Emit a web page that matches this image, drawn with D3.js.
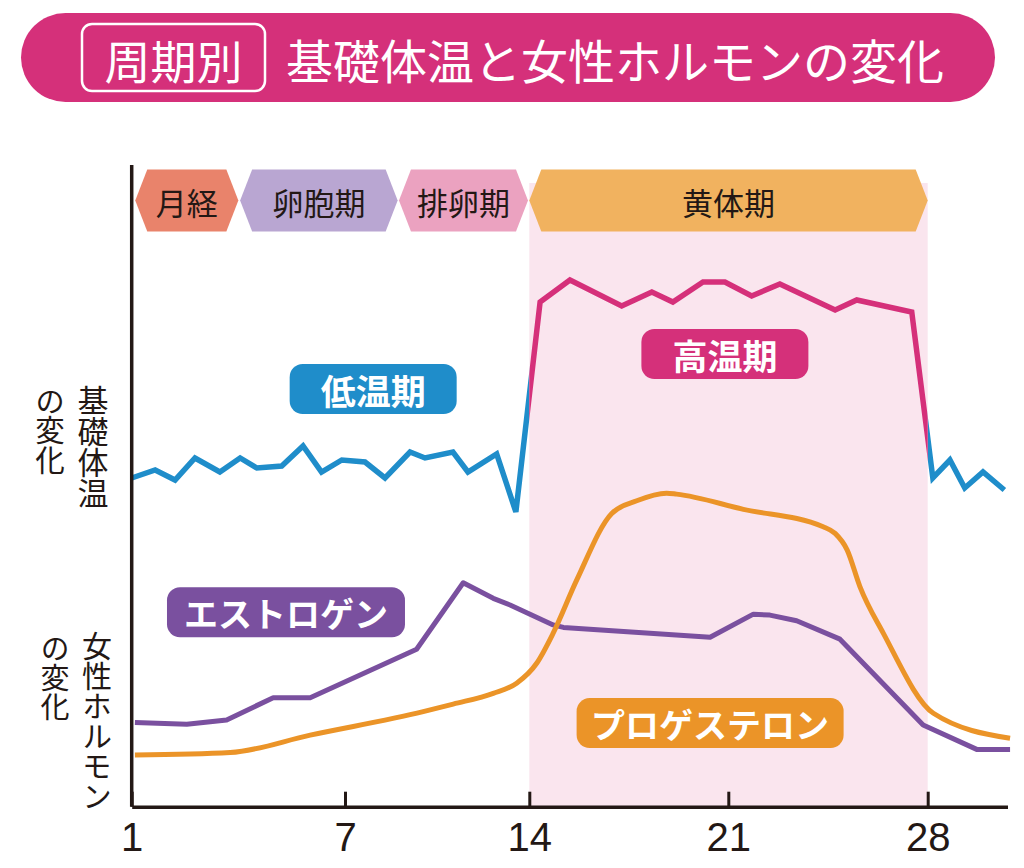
<!DOCTYPE html>
<html><head><meta charset="utf-8">
<script src="https://cdn.jsdelivr.net/npm/d3@7"></script>
<style>
html,body{margin:0;padding:0;background:#fff;}
svg{display:block;}
text{font-family:"Noto Sans CJK JP","Noto Sans",sans-serif;}
</style></head><body>
<svg id="chart" width="1024" height="868"></svg>
<script>
// ---------------- data ----------------
const titleTag = "周期別";
const titleText = "基礎体温と女性ホルモンの変化";

const dayTicks = [1, 7, 14, 21, 28];

const phaseNames = ["月経", "卵胞期", "排卵期", "黄体期"];
const phaseStart = [1.1, 4.05, 9.05, 14.0];
const phaseEnd   = [4.0, 9.0, 13.95, 28.0];
const lutealRange = [14, 28];

// basal body temperature (°C, schematic)
const tempDays = [1.00, 1.66, 2.22, 2.78, 3.48, 4.05, 4.52, 5.22, 5.82, 6.34, 6.91,
  7.76, 8.52, 9.47, 10.04, 11.10, 11.67, 12.76, 13.49,
  14.38, 15.43, 17.25, 18.31, 19.05, 20.11, 20.88, 21.82, 22.81, 24.75, 25.51, 27.44,
  28.18, 28.78, 29.30, 29.94, 30.69];
const tempValues = [36.17, 36.21, 36.16, 36.27, 36.20, 36.27, 36.22, 36.23, 36.33, 36.20, 36.26,
  36.25, 36.17, 36.30, 36.27, 36.30, 36.20, 36.29, 36.00,
  37.05, 37.16, 37.03, 37.10, 37.05, 37.15, 37.15, 37.08, 37.14, 37.01, 37.06, 37.00,
  36.17, 36.26, 36.12, 36.20, 36.11];

// hormone levels (relative units)
const estrogenDays   = [1.09, 2.55, 3.67, 4.98, 6.02, 9.72, 11.49, 12.63, 13.27, 14.84, 15.20,
  20.36, 21.88, 22.46, 23.40, 24.92, 27.84, 29.72, 30.89];
const estrogenValues = [26.6, 26.0, 27.4, 34.4, 34.4, 49.7, 70.7, 65.8, 63.7, 57.4, 56.6,
  53.5, 60.8, 60.5, 58.7, 52.9, 25.8, 18.1, 18.1];

const progesteroneDays   = [1.09, 3.77, 6.02, 9.97, 11.11, 12.63, 13.52, 14.26, 14.84, 15.67, 16.90,
  17.78, 18.83, 19.18, 21.53, 24.33, 24.75, 25.17, 25.62, 26.44, 28.20, 30.89];
const progesteroneValues = [16.3, 17.1, 22.6, 30.0, 32.4, 35.8, 39.0, 45.3, 54.8, 71.6, 92.6,
  96.6, 99.0, 98.7, 93.9, 88.4, 86.3, 81.1, 69.5, 54.8, 29.5, 21.6];

const sideLabels = ["基礎体温", "の変化", "女性ホルモン", "の変化"];

const bubbleLabels = ["低温期", "高温期", "エストロゲン", "プロゲステロン"];
const bubbleDays   = [8.07, 20.88, 5.34, 20.36];
const bubbleValues = [36.615, 36.79, 61.4, 26.4];
const bubbleSeries = ["temp", "temp", "hormone", "hormone"];

// ---------------- styles ----------------
const C = {
  ink: "#231815", pinkBar: "#d5307a", blue: "#1f8dca", pink: "#d5307a",
  purple: "#7a509f", orange: "#eb9428", shade: "#fae5ee",
  phase: ["#e9836b", "#b9a6d2", "#eba2c0", "#f1b25f"],
  bubble: ["#1f8dca", "#d5307a", "#7a509f", "#eb9428"]
};
const bubbleW = [167, 167, 238, 267];
const bubbleFont = [35, 35, 34, 34];

const W = 1024, H = 868;
const svg = d3.select("#chart");
svg.append("rect").attr("width", W).attr("height", H).attr("fill", "#fff");

// ---------------- scales ----------------
const x = d3.scaleLinear()
  .domain([1, 7, 14, 21, 28, 30.8])
  .range([131.7, 345, 529.3, 728.3, 927.7, 1007.5]);
const axisY = 806.7;
const yTemp = d3.scaleLinear().domain([36.0, 37.0]).range([512, 312]);
const yHorm = d3.scaleLinear().domain([0, 100]).range([axisY, 490]);

// ---------------- title ----------------
const title = svg.append("g");
title.append("rect").attr("x", 21).attr("y", 13).attr("width", 974).attr("height", 89)
  .attr("rx", 44.5).attr("fill", C.pinkBar);
title.append("rect").attr("x", 82).attr("y", 24).attr("width", 183).attr("height", 67)
  .attr("rx", 10).attr("fill", "none").attr("stroke", "#fff").attr("stroke-width", 2.5);
title.append("text").attr("x", 173.5).attr("y", 59).attr("text-anchor", "middle")
  .attr("dominant-baseline", "central").attr("fill", "#fff").attr("font-size", 46)
  .text(titleTag);
title.append("text").attr("x", 286).attr("y", 58.5).attr("dominant-baseline", "central")
  .attr("fill", "#fff").attr("font-size", 47).text(titleText);

// ---------------- luteal shading ----------------
svg.append("rect").attr("x", x(lutealRange[0])).attr("y", 183)
  .attr("width", x(lutealRange[1]) - x(lutealRange[0])).attr("height", axisY - 183)
  .attr("fill", C.shade);

// ---------------- phase bar ----------------
const hexTop = 169.5, hexBot = 231.5, hexMid = (hexTop + hexBot) / 2, tip = 12;
const phases = phaseNames.map((n, i) => ({ name: n, s: phaseStart[i], e: phaseEnd[i], i }));
const pg = svg.append("g").selectAll("g").data(phases).join("g");
pg.append("path")
  .attr("d", d => {
    const a = x(d.s), b = x(d.e);
    return `M${a},${hexMid}L${a + tip},${hexTop}L${b - tip},${hexTop}L${b},${hexMid}L${b - tip},${hexBot}L${a + tip},${hexBot}Z`;
  })
  .attr("fill", d => C.phase[d.i]);
pg.append("text")
  .attr("x", d => (x(d.s) + x(d.e)) / 2).attr("y", hexMid + 1)
  .attr("text-anchor", "middle").attr("dominant-baseline", "central")
  .attr("font-size", 31).attr("fill", C.ink).text(d => d.name);

// ---------------- hormone lines ----------------
const eLine = d3.line().x(d => x(d[0])).y(d => yHorm(d[1]));
const pLine = d3.line().x(d => x(d[0])).y(d => yHorm(d[1])).curve(d3.curveMonotoneX);
const estrogen = d3.zip(estrogenDays, estrogenValues);
const progesterone = d3.zip(progesteroneDays, progesteroneValues);
svg.append("path").datum(estrogen).attr("d", eLine).attr("fill", "none")
  .attr("stroke", C.purple).attr("stroke-width", 5).attr("stroke-linejoin", "round");
svg.append("path").datum(progesterone).attr("d", pLine).attr("fill", "none")
  .attr("stroke", C.orange).attr("stroke-width", 5).attr("stroke-linejoin", "round");

// ---------------- temperature line ----------------
const defs = svg.append("defs");
defs.append("clipPath").attr("id", "inside").append("rect")
  .attr("x", x(lutealRange[0])).attr("y", 0)
  .attr("width", x(lutealRange[1]) - x(lutealRange[0])).attr("height", H);
const out = defs.append("clipPath").attr("id", "outside");
out.append("rect").attr("x", 0).attr("y", 0).attr("width", x(lutealRange[0])).attr("height", H);
out.append("rect").attr("x", x(lutealRange[1])).attr("y", 0)
  .attr("width", W - x(lutealRange[1])).attr("height", H);

const temps = d3.zip(tempDays, tempValues);
const tLine = d3.line().x(d => x(d[0])).y(d => yTemp(d[1]));
svg.append("path").datum(temps).attr("d", tLine).attr("fill", "none")
  .attr("stroke", C.blue).attr("stroke-width", 5.5).attr("stroke-linejoin", "miter")
  .attr("clip-path", "url(#outside)");
svg.append("path").datum(temps).attr("d", tLine).attr("fill", "none")
  .attr("stroke", C.pink).attr("stroke-width", 5.5).attr("stroke-linejoin", "miter")
  .attr("clip-path", "url(#inside)");

// ---------------- bubbles ----------------
const bubbles = bubbleLabels.map((t, i) => ({
  t, i, cx: x(bubbleDays[i]),
  cy: bubbleSeries[i] === "temp" ? yTemp(bubbleValues[i]) : yHorm(bubbleValues[i])
}));
const bg = svg.append("g").selectAll("g").data(bubbles).join("g");
bg.append("rect")
  .attr("x", d => d.cx - bubbleW[d.i] / 2).attr("y", d => d.cy - 25)
  .attr("width", d => bubbleW[d.i]).attr("height", 50).attr("rx", 13)
  .attr("fill", d => C.bubble[d.i]);
bg.append("text").attr("x", d => d.cx).attr("y", d => d.cy)
  .attr("text-anchor", "middle").attr("dominant-baseline", "central")
  .attr("font-size", d => bubbleFont[d.i]).attr("font-weight", 700)
  .attr("fill", "#fff").text(d => d.t);

// ---------------- axes ----------------
svg.append("line").attr("x1", x(1)).attr("x2", x(1)).attr("y1", 165).attr("y2", axisY)
  .attr("stroke", C.ink).attr("stroke-width", 3.5);
const xAxis = d3.axisBottom(x).tickValues(dayTicks).tickFormat(d3.format("d"))
  .tickSizeInner(-15).tickSizeOuter(0).tickPadding(16);
const ag = svg.append("g").attr("transform", `translate(0,${axisY})`).call(xAxis);
ag.select(".domain").attr("stroke", C.ink).attr("stroke-width", 3.5);
ag.selectAll(".tick line").attr("stroke", C.ink).attr("stroke-width", 3);
ag.selectAll(".tick text").attr("fill", C.ink)
  .style("font-family", "'Liberation Sans', Arial, sans-serif").style("font-size", "40px");

// ---------------- side labels (vertical) ----------------
const sidePos = [[93, 385, 31], [50, 386, 29.5], [97, 631, 30], [55, 634, 29]];
sideLabels.forEach((s, i) => {
  svg.append("text").attr("x", sidePos[i][0]).attr("y", sidePos[i][1])
    .style("writing-mode", "vertical-rl").style("text-orientation", "upright")
    .attr("font-size", sidePos[i][2]).attr("fill", C.ink).text(s);
});
</script>
</body></html>
